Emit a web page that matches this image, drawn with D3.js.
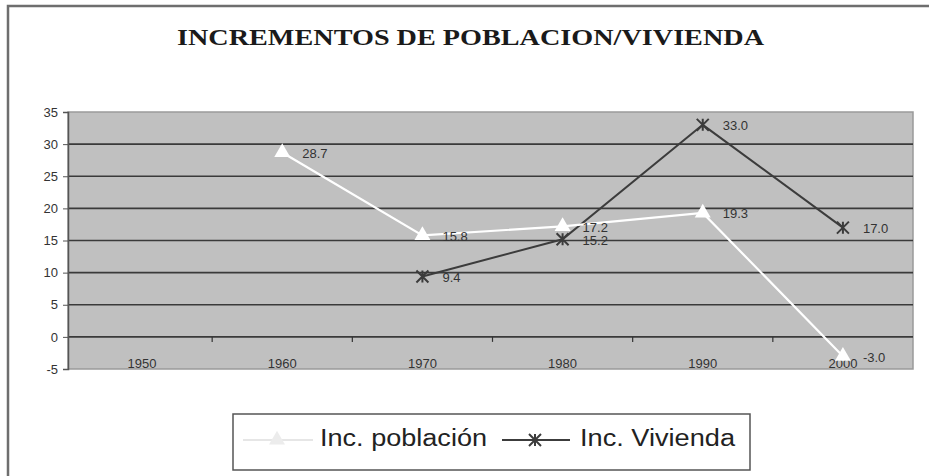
<!DOCTYPE html>
<html>
<head>
<meta charset="utf-8">
<script src="https://cdn.jsdelivr.net/npm/d3@7"></script>
<style>
  body { margin: 0; background: #fff; }
  text { font-family: "Liberation Sans", Arial, sans-serif; }
</style>
</head>
<body>
<div id="chart"></div>
<script>
// data
var anios = ['1950', '1960', '1970', '1980', '1990', '2000'];
var incPoblacion = [null, 28.7, 15.8, 17.2, 19.3, -3.0];
var incVivienda = [null, null, 9.4, 15.2, 33.0, 17.0];
var yTicks = [-5, 0, 5, 10, 15, 20, 25, 30, 35];
var titulo = 'INCREMENTOS DE POBLACION/VIVIENDA';

var width = 929,
    height = 476;

var svg = d3.select('#chart').append('svg')
            .attr('width', width)
            .attr('height', height);

// marco exterior (se corta por la derecha y por abajo)
svg.append('rect')
   .attr('x', 8).attr('y', 6)
   .attr('width', 940).attr('height', 500)
   .attr('fill', '#fff')
   .attr('stroke', '#6e6e6e')
   .attr('stroke-width', 2.5);

svg.append('text')
   .attr('x', 177).attr('y', 45)
   .attr('textLength', 587)
   .attr('lengthAdjust', 'spacingAndGlyphs')
   .style('font-family', '"Liberation Serif", "Times New Roman", serif')
   .style('font-weight', 'bold')
   .style('font-size', '23px')
   .attr('fill', '#1a1a1a')
   .text(titulo);

var plot = { left: 68, right: 913, top: 112, bottom: 369 };

var x = d3.scaleBand().domain(anios).range([72, plot.right]);
var y = d3.scaleLinear().domain([-5, 35]).range([plot.bottom, plot.top]);

var g = svg.append('g');

g.append('rect')
 .attr('x', plot.left).attr('y', plot.top)
 .attr('width', plot.right - plot.left)
 .attr('height', plot.bottom - plot.top)
 .attr('fill', '#c0c0c0')
 .attr('stroke', '#9a9a9a')
 .attr('stroke-width', 1.5);

// lineas de division
g.selectAll('.grid')
 .data(yTicks.filter(function(d) { return d > -5 && d < 35; }))
 .enter().append('line')
 .attr('class', 'grid')
 .attr('x1', plot.left).attr('x2', plot.right)
 .attr('y1', function(d) { return y(d); })
 .attr('y2', function(d) { return y(d); })
 .attr('stroke', '#3a3a3a')
 .attr('stroke-width', 1.6);

// eje Y (guion normal para los negativos, como en el original)
var yAxis = d3.axisLeft(y).tickValues(yTicks).tickSize(5).tickPadding(5)
              .tickFormat(function(d) { return String(d); });
var ya = svg.append('g')
            .attr('transform', 'translate(' + plot.left + ',0)')
            .call(yAxis);
ya.select('.domain').attr('stroke', '#555').attr('stroke-width', 1.5);
ya.selectAll('.tick line').attr('stroke', '#555');
ya.selectAll('.tick text')
  .style('font-size', '13px')
  .attr('fill', '#333');

// marcas del eje X sobre el 0
var cortes = anios.slice(1).map(function(a) { return x(a); });
g.selectAll('.xtick')
 .data(cortes)
 .enter().append('line')
 .attr('x1', function(d) { return d; })
 .attr('x2', function(d) { return d; })
 .attr('y1', y(0)).attr('y2', y(0) + 5)
 .attr('stroke', '#333')
 .attr('stroke-width', 1.2);

g.selectAll('.xlab')
 .data(anios)
 .enter().append('text')
 .attr('x', function(d) { return x(d) + x.bandwidth() / 2; })
 .attr('y', 368)
 .attr('text-anchor', 'middle')
 .style('font-size', '13px')
 .attr('fill', '#333')
 .text(function(d) { return d; });

function puntos(valores) {
  var out = [];
  valores.forEach(function(v, i) {
    if (v !== null) out.push({ anio: anios[i], v: v });
  });
  return out;
}

var cx = function(d) { return x(d.anio) + x.bandwidth() / 2; };
var linea = d3.line()
              .x(cx)
              .y(function(d) { return y(d.v); });

var pob = puntos(incPoblacion),
    viv = puntos(incVivienda);

g.append('path').datum(viv)
 .attr('d', linea)
 .attr('fill', 'none')
 .attr('stroke', '#3c3c3c')
 .attr('stroke-width', 2);

g.append('path').datum(pob)
 .attr('d', linea)
 .attr('fill', 'none')
 .attr('stroke', '#fff')
 .attr('stroke-width', 2.2);

var triangulo = d3.symbol().type(d3.symbolTriangle).size(110);

function asterisco(sel, s) {
  sel.append('path')
     .attr('d', 'M' + (-s) + ',' + (-s) + 'L' + s + ',' + s +
                'M' + (-s) + ',' + s + 'L' + s + ',' + (-s) +
                'M0,' + (-s) + 'L0,' + s)
     .attr('stroke', '#3c3c3c')
     .attr('stroke-width', 2)
     .attr('fill', 'none');
}

g.selectAll('.mpob')
 .data(pob)
 .enter().append('path')
 .attr('transform', function(d) { return 'translate(' + cx(d) + ',' + y(d.v) + ')'; })
 .attr('d', triangulo)
 .attr('fill', '#fff');

g.selectAll('.mviv')
 .data(viv)
 .enter().append('g')
 .attr('transform', function(d) { return 'translate(' + cx(d) + ',' + y(d.v) + ')'; })
 .each(function() { asterisco(d3.select(this), 6); });

// etiquetas de datos
g.selectAll('.lab')
 .data(pob.concat(viv))
 .enter().append('text')
 .attr('x', function(d) { return cx(d) + 20; })
 .attr('y', function(d) { return y(d.v) + 1; })
 .attr('dominant-baseline', 'central')
 .style('font-size', '13px')
 .attr('fill', '#333')
 .text(function(d) { return d.v < 0 ? '-' + Math.abs(d.v).toFixed(1) : d.v.toFixed(1); });

// leyenda
var ley = svg.append('g');
ley.append('rect')
   .attr('x', 233).attr('y', 414)
   .attr('width', 517).attr('height', 56)
   .attr('fill', '#fff')
   .attr('stroke', '#555')
   .attr('stroke-width', 1.5);

ley.append('line')
   .attr('x1', 243).attr('x2', 313).attr('y1', 440).attr('y2', 440)
   .attr('stroke', '#e6e6e6').attr('stroke-width', 2);
ley.append('path')
   .attr('transform', 'translate(277,440)')
   .attr('d', triangulo)
   .attr('fill', '#ececec');
ley.append('text')
   .attr('x', 320).attr('y', 446)
   .attr('textLength', 167)
   .attr('lengthAdjust', 'spacingAndGlyphs')
   .style('font-size', '23px')
   .attr('fill', '#222')
   .text('Inc. población');

ley.append('line')
   .attr('x1', 502).attr('x2', 570).attr('y1', 440).attr('y2', 440)
   .attr('stroke', '#3c3c3c').attr('stroke-width', 2);
ley.append('g')
   .attr('transform', 'translate(535,440)')
   .call(asterisco, 6);
ley.append('text')
   .attr('x', 580).attr('y', 446)
   .attr('textLength', 155)
   .attr('lengthAdjust', 'spacingAndGlyphs')
   .style('font-size', '23px')
   .attr('fill', '#222')
   .text('Inc. Vivienda');
</script>
</body>
</html>
